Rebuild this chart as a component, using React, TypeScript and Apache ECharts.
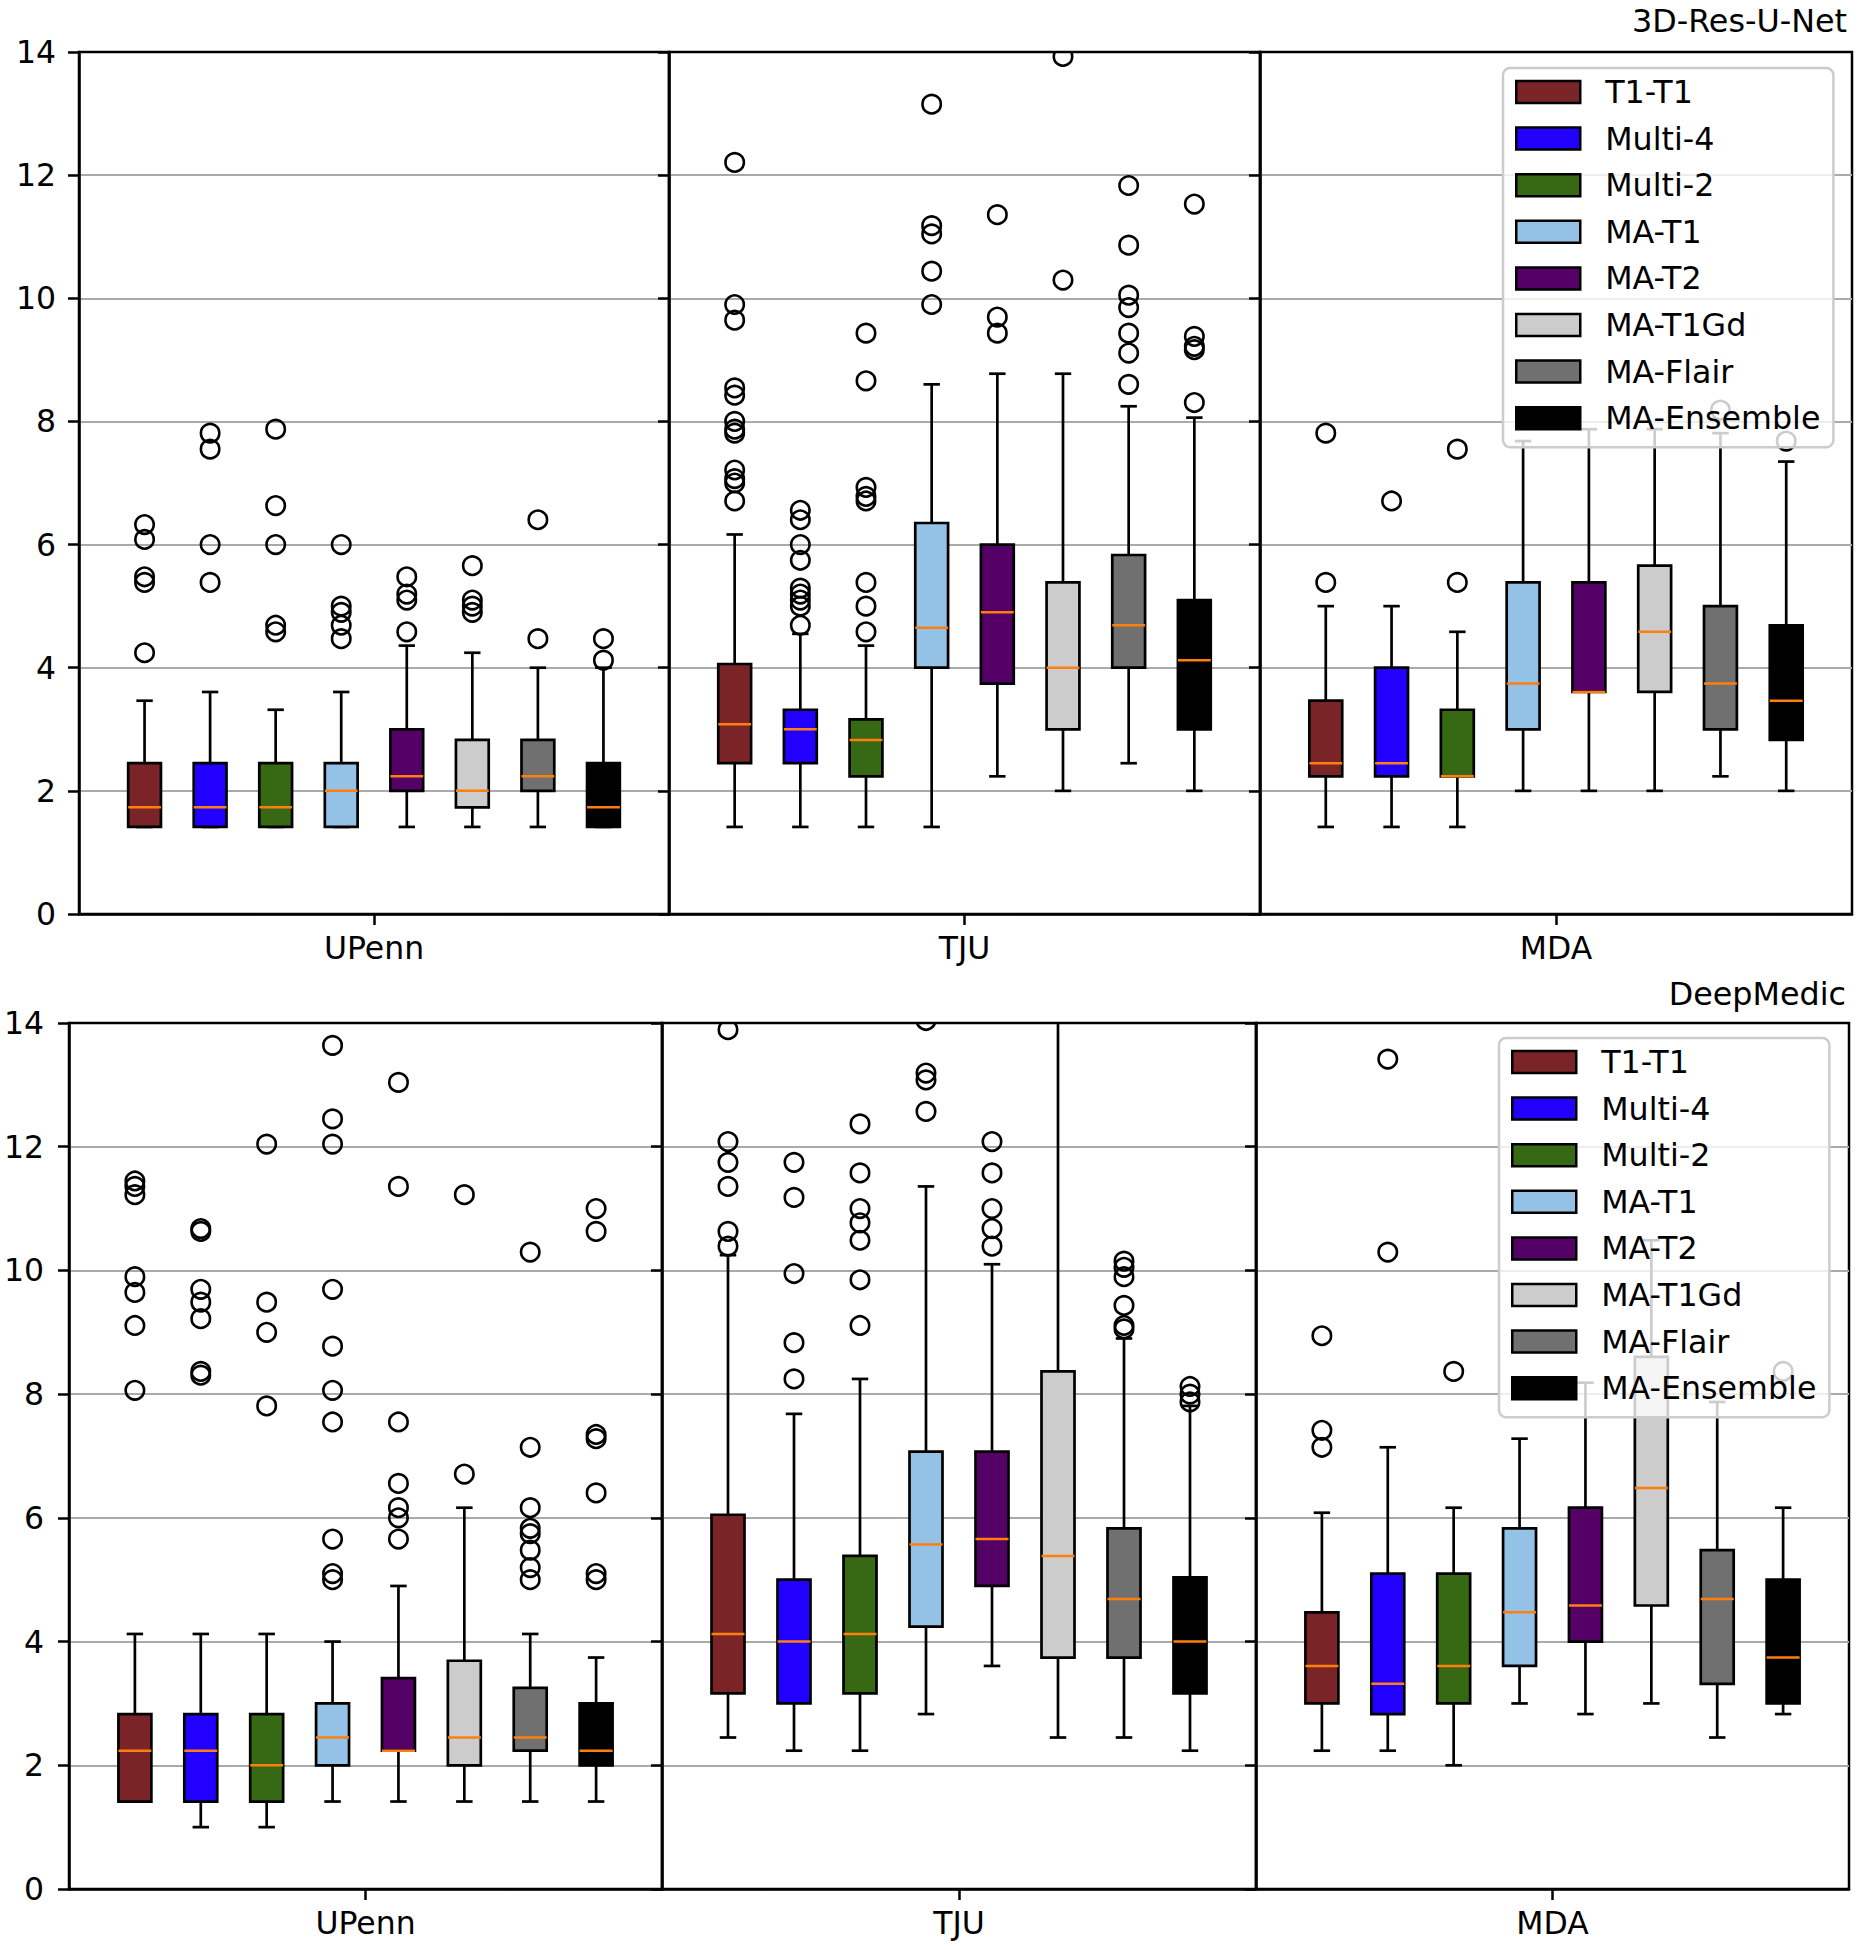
import React, { useEffect, useRef } from 'react';
import * as echarts from 'echarts';

const FONT = 'DejaVu Sans';

const methods = ['T1-T1', 'Multi-4', 'Multi-2', 'MA-T1', 'MA-T2', 'MA-T1Gd', 'MA-Flair', 'MA-Ensemble'];
const methodColors = ['#7a2427', '#2200ff', '#376813', '#94c2e6', '#550066', '#cccccc', '#707070', '#000000'];
const sites = ['UPenn', 'TJU', 'MDA'];
const modelTitles = ['3D-Res-U-Net', 'DeepMedic'];
const yMin = 0;
const yMax = 14;
const yStep = 2;

// Each row: [whiskerLow, Q1, median, Q3, whiskerHigh]
const resUNetUPennStats = [
  [1.414, 1.414, 1.732, 2.449, 3.464],
  [1.414, 1.414, 1.732, 2.449, 3.606],
  [1.414, 1.414, 1.732, 2.449, 3.317],
  [1.414, 1.414, 2.0, 2.449, 3.606],
  [1.414, 2.0, 2.236, 3.0, 4.359],
  [1.414, 1.732, 2.0, 2.828, 4.243],
  [1.414, 2.0, 2.236, 2.828, 4.0],
  [1.414, 1.414, 1.732, 2.449, 4.0],
];
const resUNetUPennOutliers = [
  [6.325, 6.083, 5.477, 5.385, 4.243],
  [7.81, 7.55, 6.0, 5.385],
  [7.874, 6.633, 6.0, 4.69, 4.583],
  [6.0, 5.0, 4.899, 4.69, 4.472],
  [5.477, 5.196, 5.099, 4.583],
  [5.657, 5.099, 5.0, 4.899],
  [6.403, 4.472],
  [4.472, 4.123],
];

const resUNetTJUStats = [
  [1.414, 2.449, 3.08, 4.06, 6.164],
  [1.414, 2.449, 3.0, 3.317, 4.55],
  [1.414, 2.236, 2.828, 3.162, 4.359],
  [1.414, 4.0, 4.65, 6.35, 8.602],
  [2.236, 3.742, 4.899, 6.0, 8.775],
  [2.0, 3.0, 4.0, 5.385, 8.775],
  [2.449, 4.0, 4.69, 5.831, 8.246],
  [2.0, 3.0, 4.123, 5.099, 8.062],
];
const resUNetTJUOutliers = [
  [12.207, 9.899, 9.644, 8.544, 8.426, 8.0, 7.874, 7.81, 7.211, 7.071, 7.0, 6.708],
  [6.557, 6.403, 6.0, 5.745, 5.292, 5.196, 5.099, 5.0, 4.69],
  [9.434, 8.66, 6.928, 6.782, 6.708, 5.385, 5.0, 4.583],
  [13.153, 11.18, 11.045, 10.44, 9.899],
  [11.358, 9.695, 9.434],
  [13.928, 10.296],
  [11.832, 10.863, 10.05, 9.849, 9.434, 9.11, 8.602],
  [11.53, 9.381, 9.22, 9.165, 8.307],
];

const resUNetMDAStats = [
  [1.414, 2.236, 2.449, 3.464, 5.0],
  [1.414, 2.236, 2.449, 4.0, 5.0],
  [1.414, 2.236, 2.236, 3.317, 4.583],
  [2.0, 3.0, 3.742, 5.385, 7.681],
  [2.0, 3.606, 3.606, 5.385, 7.874],
  [2.0, 3.606, 4.583, 5.657, 7.874],
  [2.236, 3.0, 3.742, 5.0, 7.81],
  [2.0, 2.828, 3.464, 4.69, 7.348],
];
const resUNetMDAOutliers = [
  [7.81, 5.385],
  [6.708],
  [7.55, 5.385],
  [],
  [],
  [],
  [8.185],
  [7.681],
];

const deepMedicUPennStats = [
  [1.414, 1.414, 2.236, 2.828, 4.123],
  [1.0, 1.414, 2.236, 2.828, 4.123],
  [1.0, 1.414, 2.0, 2.828, 4.123],
  [1.414, 2.0, 2.449, 3.0, 4.0],
  [1.414, 2.236, 2.236, 3.41, 4.899],
  [1.414, 2.0, 2.449, 3.69, 6.164],
  [1.414, 2.236, 2.449, 3.25, 4.123],
  [1.414, 2.0, 2.236, 3.0, 3.742],
];
const deepMedicUPennOutliers = [
  [11.446, 11.358, 11.225, 9.899, 9.644, 9.11, 8.062],
  [10.677, 10.63, 9.695, 9.487, 9.22, 8.367, 8.307],
  [12.042, 9.487, 9.0, 7.81],
  [13.638, 12.45, 12.042, 9.695, 8.775, 8.062, 7.55, 5.657, 5.099, 5.0],
  [13.04, 11.358, 7.55, 6.557, 6.164, 6.0, 5.657],
  [11.225, 6.708],
  [10.296, 7.141, 6.164, 5.831, 5.745, 5.477, 5.196, 5.0],
  [11.0, 10.63, 7.348, 7.28, 6.403, 5.099, 5.0],
];

const deepMedicTJUStats = [
  [2.449, 3.162, 4.123, 6.05, 10.247],
  [2.236, 3.0, 4.0, 5.0, 7.681],
  [2.236, 3.162, 4.123, 5.385, 8.246],
  [2.828, 4.243, 5.57, 7.071, 11.358],
  [3.606, 4.899, 5.657, 7.071, 10.1],
  [2.449, 3.742, 5.385, 8.367, 14.6],
  [2.449, 3.742, 4.69, 5.831, 8.9],
  [2.236, 3.162, 4.0, 5.04, 7.81],
];
const deepMedicTJUOutliers = [
  [13.892, 12.083, 11.747, 11.358, 10.63, 10.392],
  [11.747, 11.18, 9.95, 8.832, 8.246],
  [12.369, 11.576, 11.0, 10.77, 10.488, 9.849, 9.11],
  [14.04, 13.191, 13.08, 12.57],
  [12.083, 11.576, 11.0, 10.677, 10.392],
  [],
  [10.149, 10.05, 9.899, 9.434, 9.11, 9.055],
  [8.124, 8.0, 7.874],
];

const deepMedicMDAStats = [
  [2.236, 3.0, 3.606, 4.472, 6.083],
  [2.236, 2.828, 3.317, 5.099, 7.141],
  [2.0, 3.0, 3.606, 5.099, 6.164],
  [3.0, 3.606, 4.472, 5.831, 7.28],
  [2.828, 4.0, 4.583, 6.164, 8.185],
  [3.0, 4.583, 6.481, 8.602, 10.488],
  [2.449, 3.317, 4.69, 5.477, 7.874],
  [2.828, 3.0, 3.742, 5.0, 6.164],
];
const deepMedicMDAOutliers = [
  [8.944, 7.416, 7.141],
  [13.416, 10.296],
  [8.367],
  [],
  [],
  [],
  [],
  [8.367],
];

const panels = [
  { model: 0, site: 0, stats: resUNetUPennStats, outliers: resUNetUPennOutliers },
  { model: 0, site: 1, stats: resUNetTJUStats, outliers: resUNetTJUOutliers },
  { model: 0, site: 2, stats: resUNetMDAStats, outliers: resUNetMDAOutliers },
  { model: 1, site: 0, stats: deepMedicUPennStats, outliers: deepMedicUPennOutliers },
  { model: 1, site: 1, stats: deepMedicTJUStats, outliers: deepMedicTJUOutliers },
  { model: 1, site: 2, stats: deepMedicMDAStats, outliers: deepMedicMDAOutliers },
];

// layout (pixels)
const gridRects = [
  { left: 79, top: 52, width: 590, height: 862 },
  { left: 669, top: 52, width: 591, height: 862 },
  { left: 1260, top: 52, width: 592, height: 862 },
  { left: 69, top: 1023, width: 593, height: 866 },
  { left: 662, top: 1023, width: 594, height: 866 },
  { left: 1256, top: 1023, width: 593, height: 866 },
];

function makeRender(m: number, color: string, outs: number[]) {
  return (params: any, api: any) => {
    const base = api.coord([0, 0]);
    const band = api.size([1, 0])[0];
    const slot = band / (methods.length + 1);
    const x = base[0] - band / 2 + (m + 1) * slot;
    const bw = slot * 0.5;
    const y = (v: number) => api.coord([0, v])[1];
    const wl = y(api.value(1));
    const q1 = y(api.value(2));
    const med = y(api.value(3));
    const q3 = y(api.value(4));
    const wh = y(api.value(5));
    const lw = 2.7;
    const blk = { stroke: '#000', lineWidth: lw };
    const children: any[] = [
      { type: 'line', shape: { x1: x, y1: wl, x2: x, y2: q1 }, style: blk },
      { type: 'line', shape: { x1: x, y1: q3, x2: x, y2: wh }, style: blk },
      { type: 'line', shape: { x1: x - bw / 4, y1: wl, x2: x + bw / 4, y2: wl }, style: blk },
      { type: 'line', shape: { x1: x - bw / 4, y1: wh, x2: x + bw / 4, y2: wh }, style: blk },
      {
        type: 'rect',
        shape: { x: x - bw / 2, y: q3, width: bw, height: q1 - q3 },
        style: { fill: color, stroke: '#000', lineWidth: lw },
      },
      {
        type: 'line',
        shape: { x1: x - bw / 2, y1: med, x2: x + bw / 2, y2: med },
        style: { stroke: '#ff7f0e', lineWidth: 2.5 },
      },
    ];
    outs.forEach((o) => {
      children.push({
        type: 'circle',
        shape: { cx: x, cy: y(o), r: 9.2 },
        style: { fill: 'none', stroke: '#000', lineWidth: 2.6 },
      });
    });
    return { type: 'group', children };
  };
}

function buildOption() {
  const grid = gridRects.map((r) => ({
    ...r,
    show: true,
    borderColor: '#000',
    borderWidth: 2.5,
    backgroundColor: 'transparent',
  }));

  const xAxis = panels.map((p, gi) => ({
    gridIndex: gi,
    type: 'category',
    data: [sites[p.site]],
    axisLine: { show: true, lineStyle: { color: '#000', width: 2.5 } },
    axisTick: { show: true, alignWithLabel: true, length: 11, lineStyle: { color: '#000', width: 2.5 } },
    axisLabel: { fontSize: 31.5, fontFamily: FONT, color: '#000', margin: 18 },
    splitLine: { show: false },
  }));

  const yAxis = panels.map((p, gi) => ({
    gridIndex: gi,
    type: 'value',
    min: yMin,
    max: yMax,
    interval: yStep,
    axisLine: { show: true, lineStyle: { color: '#000', width: 2.5 } },
    axisTick: { show: true, length: 11, lineStyle: { color: '#000', width: 2.5 } },
    axisLabel: {
      show: p.site === 0,
      fontSize: 31.5,
      fontFamily: FONT,
      color: '#000',
      margin: p.model === 0 ? 23 : 25,
    },
    splitLine: {
      show: true,
      showMinLine: false,
      showMaxLine: false,
      lineStyle: { color: '#aaaaaa', width: 2 },
    },
  }));

  const series: any[] = [];
  panels.forEach((p, gi) => {
    methods.forEach((name, m) => {
      series.push({
        type: 'custom',
        name,
        xAxisIndex: gi,
        yAxisIndex: gi,
        clip: true,
        itemStyle: { color: methodColors[m] },
        encode: { x: 0, y: [1, 2, 3, 4, 5] },
        data: [[0, ...p.stats[m]]],
        renderItem: makeRender(m, methodColors[m], p.outliers[m]),
        z: 2,
      });
    });
  });

  const legendPos = [
    { left: 1503, top: 68 },
    { left: 1499, top: 1038 },
  ];
  const legend = legendPos.map((pos) => ({
    ...pos,
    orient: 'vertical',
    itemWidth: 64,
    itemHeight: 22,
    itemGap: 14.6,
    padding: [8, 13, 13, 12],
    backgroundColor: 'rgba(255,255,255,0.8)',
    borderColor: '#cccccc',
    borderWidth: 2.5,
    borderRadius: 7,
    selectedMode: false,
    textStyle: { fontSize: 31.7, fontFamily: FONT, color: '#000', lineHeight: 31.8, padding: [0, 0, 0, 20] },
    itemStyle: { borderColor: '#000', borderWidth: 2.5 },
    data: methods.map((n) => ({ name: n, icon: 'rect' })),
  }));

  const title = [
    { text: modelTitles[0], right: 14, top: 4 },
    { text: modelTitles[1], right: 15, top: 977 },
  ].map((t) => ({
    ...t,
    padding: 0,
    textStyle: { fontSize: 31.8, fontWeight: 'normal', fontFamily: FONT, color: '#000' },
  }));

  return {
    animation: false,
    backgroundColor: '#ffffff',
    textStyle: { fontFamily: FONT },
    title,
    legend,
    grid,
    xAxis,
    yAxis,
    series,
  };
}

export default function App() {
  const ref = useRef<HTMLDivElement>(null);
  useEffect(() => {
    document.body.style.margin = '0';
    const el = ref.current;
    if (!el) return;
    const chart = echarts.init(el, null, { renderer: 'svg' });
    chart.setOption(buildOption() as any);
    return () => {
      chart.dispose();
    };
  }, []);
  return <div ref={ref} style={{ width: 1861, height: 1950, background: '#fff' }} />;
}
